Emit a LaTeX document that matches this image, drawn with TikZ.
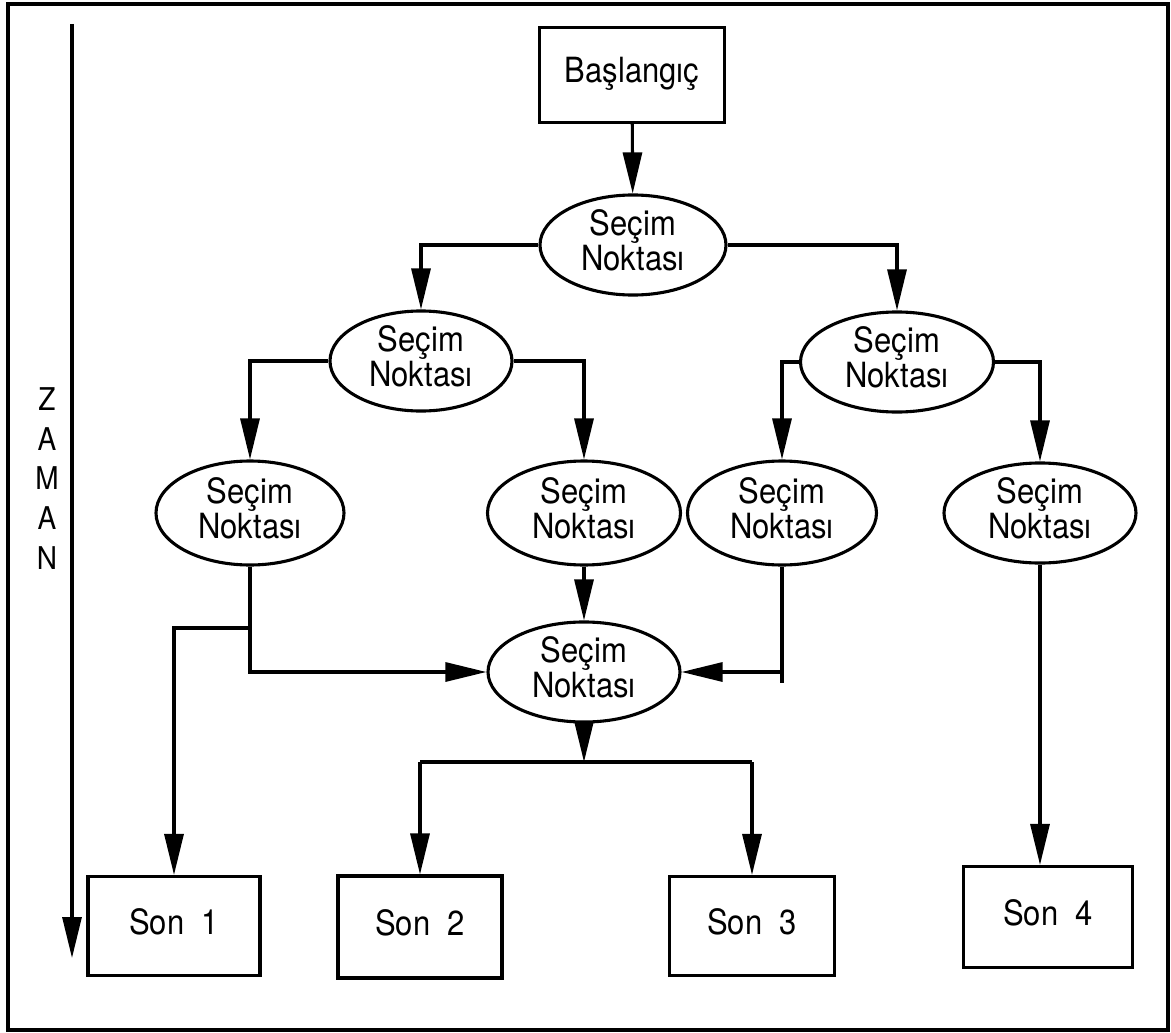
\documentclass[tikz,border=0pt]{standalone}
\usepackage{fontspec}
\setmainfont{TeX Gyre Heros}
\usetikzlibrary{shapes.geometric,arrows.meta}
% slightly tall lettering, stacked lines centred
\newcommand\talltext[1]{\scalebox{1}[1.12]{\begin{tabular}{@{}c@{}}#1\end{tabular}}}
\begin{document}
\begin{tikzpicture}[x=1pt,y=-1pt,
  line width=3.1pt,
  font=\fontsize{31}{29}\selectfont,
  arr/.style={-{Triangle[length=41pt,width=19pt]}},
  box/.style={draw,rectangle,inner sep=0pt,align=center},
  choice/.style={draw,ellipse,inner sep=0pt,align=center}]
  \useasboundingbox (0,0) rectangle (1171,1033);
  % outer frame
  \draw (8,4) rectangle (1168,1030);

  % time axis
  \coordinate (t0) at (72,24);
  \coordinate (t1) at (72,958);
  \draw[arr] (t0) -- (t1);
  \node[font=\fontsize{28}{35.7}\selectfont] (zaman) at (47,482) {\talltext{Z\\A\\M\\A\\N}};

  % start and end states
  \node[box,minimum width=185pt,minimum height=95pt] (start) at (632,75) {\talltext{Başlangıç}};
  \node[box,minimum width=172pt,minimum height=99pt] (son1) at (174,926) {\talltext{Son\ \ 1}};
  \node[box,minimum width=164pt,minimum height=102pt] (son2) at (420,927) {\talltext{Son\ \ 2}};
  \node[box,minimum width=165pt,minimum height=99pt] (son3) at (752,926) {\talltext{Son\ \ 3}};
  \node[box,minimum width=169pt,minimum height=101pt] (son4) at (1048,917) {\talltext{Son\ \ 4}};

  % choice points
  \node[choice,minimum width=186pt,minimum height=95pt] (e1) at (633,245) {\talltext{Seçim\\Noktası}};
  \node[choice,minimum width=182pt,minimum height=80pt] (e2) at (421,361) {\talltext{Seçim\\Noktası}};
  \node[choice,minimum width=193pt,minimum height=80pt] (e3) at (897,362) {\talltext{Seçim\\Noktası}};
  \node[choice,minimum width=188pt,minimum height=104pt] (e4) at (250,513) {\talltext{Seçim\\Noktası}};
  \node[choice,minimum width=193pt,minimum height=104pt] (e5) at (584,513) {\talltext{Seçim\\Noktası}};
  \node[choice,minimum width=189pt,minimum height=104pt] (e6) at (782,513) {\talltext{Seçim\\Noktası}};
  \node[choice,minimum width=192pt,minimum height=100pt] (e7) at (1040,513) {\talltext{Seçim\\Noktası}};
  \node[choice,minimum width=192pt,minimum height=76pt] (e8) at (584,672) {\talltext{Seçim\\Noktası}};

  % branching connectors
  \draw[arr] (start) -- (e1);
  \draw[arr] (e1.west) -| (e2.north);
  \draw[arr] (e1.east) -| (e3.north);
  \draw[arr] (e2.west) -| (e4.north);
  \draw[arr] (e2.east) -| (e5.north);
  \draw[arr] (e3.west) -| (e6.north);
  \draw[arr] (e3.east) -| (e7.north);

  % merging into the lower choice point
  \coordinate (b1) at (250,628);
  \coordinate (c6) at (782,683);
  \draw[arr] (e4.south) |- (e8.west);
  \draw[arr] (b1) -| (son1.north);
  \draw[arr] (e5.south) -- (e8.north);
  \draw (e6.south) -- (c6);
  \draw[arr] (e6.south |- e8.east) -- (e8.east);

  % split to the lower end states
  \coordinate (bar) at (584,762);
  \draw[arr] (e8.south) -- (bar);
  \draw (son2.north |- bar) -- (son3.north |- bar);
  \draw[arr] (son2.north |- bar) -- (son2.north);
  \draw[arr] (son3.north |- bar) -- (son3.north);
  \draw[arr] (e7.south) -- (e7.south |- son4.north);
\end{tikzpicture}
\end{document}
